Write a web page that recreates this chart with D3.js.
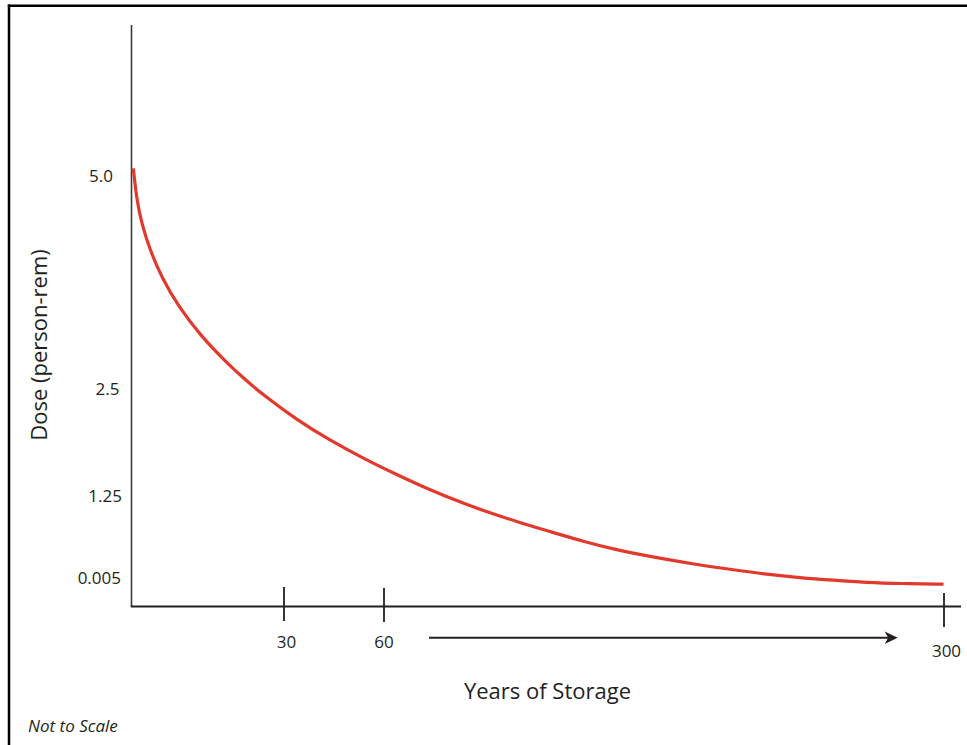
<!DOCTYPE html>
<html>
<head>
<meta charset="utf-8">
<script src="https://cdn.jsdelivr.net/npm/d3@7"></script>
<style>
  html, body { margin: 0; padding: 0; background: #fff; }
  svg { display: block; }
  text { font-family: "Open Sans", "Noto Sans", sans-serif; fill: #231f20; }
</style>
</head>
<body>
<svg id="chart" width="967" height="745"></svg>
<script>
// ---- data ----
const years = [0.36, 1.03, 2.01, 3.65, 5.96, 9.24, 13.86, 18.45, 22.40, 26.01,
  33.96, 43.95, 53.94, 65.66, 79.93, 96.34, 102.77, 117.09, 131.36, 145.63,
  159.94, 174.21, 195.64, 209.91, 224.23, 238.50, 252.77, 267.09, 281.36, 300];
const dose = [5.09, 4.72, 4.44, 4.13, 3.81, 3.47, 3.11, 2.83, 2.61, 2.43,
  2.14, 1.90, 1.69, 1.50, 1.32, 1.11, 1.03, 0.86, 0.71, 0.56,
  0.43, 0.33, 0.20, 0.13, 0.061, 0.0096, 0.0046, 0.0042, 0.0040, 0.0039];

const xTickValues = [30, 60, 300];
const xTickLabels = ["30", "60", "300"];
const yTickValues = [0.005, 1.25, 2.5, 5.0];
const yTickLabels = ["0.005", "1.25", "2.5", "5.0"];

const xTitle = "Years of Storage";
const yTitle = "Dose (person-rem)";
const note = "Not to Scale";

// ---- scales (not to scale: piecewise) ----
const x = d3.scaleLinear().domain([0, 30, 60, 300]).range([131.5, 283.5, 383.5, 943.5]);
const y = d3.scaleLinear().domain([0, 0.005, 1.25, 2.5, 5.0]).range([606, 578, 496, 389, 176]);

const svg = d3.select("#chart");
const ink = "#231f20";

// frame (left + top)
svg.append("line").attr("x1", 9).attr("x2", 9).attr("y1", 4.5).attr("y2", 745)
  .attr("stroke", "#000").attr("stroke-width", 2.5);
svg.append("line").attr("x1", 7.8).attr("x2", 967).attr("y1", 5.8).attr("y2", 5.8)
  .attr("stroke", "#000").attr("stroke-width", 2.5);

// y axis line
const plotTop = 25;
svg.append("line").attr("x1", x(0)).attr("x2", x(0)).attr("y1", plotTop).attr("y2", y(0))
  .attr("stroke", "#3a3a3a").attr("stroke-width", 1.6);

// y axis labels
const yAxis = d3.axisLeft(y).tickValues(yTickValues)
  .tickFormat((d, i) => yTickLabels[i]).tickSize(0).tickPadding(10);
const gy = svg.append("g").attr("transform", `translate(${x(0)},0)`).call(yAxis);
gy.select(".domain").remove();
const yLabelEnd = [121, 122, 119.5, 113];
gy.selectAll(".tick text")
  .attr("x", (d, i) => yLabelEnd[i] - x(0))
  .attr("font-size", 17).attr("fill", ink)
  .style("font-family", '"Open Sans", sans-serif');

// x axis
const xAxis = d3.axisBottom(x).tickValues(xTickValues)
  .tickFormat((d, i) => xTickLabels[i]).tickSizeOuter(0);
const gx = svg.append("g").attr("transform", `translate(0,${y(0)})`).call(xAxis);
gx.select(".domain").remove();
svg.append("line").attr("x1", x(0) - 0.8).attr("x2", 961).attr("y1", y(0) + 0.5).attr("y2", y(0) + 0.5)
  .attr("stroke", ink).attr("stroke-width", 2);
const tickUp = [19, 18, 13], tickDown = [15, 16, 21];
gx.selectAll(".tick line")
  .attr("y1", (d, i) => -tickUp[i]).attr("y2", (d, i) => tickDown[i])
  .attr("stroke", ink).attr("stroke-width", 1.8);
const labelBase = [42, 42, 51], labelDx = [2.5, 0, 2.5];
gx.selectAll(".tick text")
  .attr("y", (d, i) => labelBase[i]).attr("dy", 0)
  .attr("x", (d, i) => labelDx[i])
  .attr("font-size", 17).attr("fill", ink)
  .style("font-family", '"Open Sans", sans-serif');

// arrow under x axis
const arrowY = 637.7;
const ax1 = x(60) + 45.5, ax2 = x(300) - 45.8;
svg.append("line").attr("x1", ax1).attr("x2", ax2 - 8).attr("y1", arrowY).attr("y2", arrowY)
  .attr("stroke", ink).attr("stroke-width", 2);
svg.append("path")
  .attr("d", `M${ax2},${arrowY} L${ax2 - 13},${arrowY - 6.3} L${ax2 - 9.5},${arrowY} L${ax2 - 13},${arrowY + 6.3} Z`)
  .attr("fill", ink);

// curve
const pts = years.map((yr, i) => [yr, dose[i]]);
const line = d3.line().x(d => x(d[0])).y(d => y(d[1])).curve(d3.curveBasis);
svg.append("path").datum(pts).attr("d", line)
  .attr("fill", "none").attr("stroke", "#e2392d").attr("stroke-width", 3.2)
  .attr("stroke-linecap", "butt");

// titles
svg.append("text").attr("x", 547.5).attr("y", 698.5).attr("text-anchor", "middle")
  .attr("font-size", 22).text(xTitle);
svg.append("text").attr("transform", "translate(46.5,345) rotate(-90)")
  .attr("text-anchor", "middle").attr("font-size", 22).text(yTitle);
svg.append("text").attr("x", 28).attr("y", 731.5).attr("font-size", 17)
  .attr("font-style", "italic").text(note);
</script>
</body>
</html>
